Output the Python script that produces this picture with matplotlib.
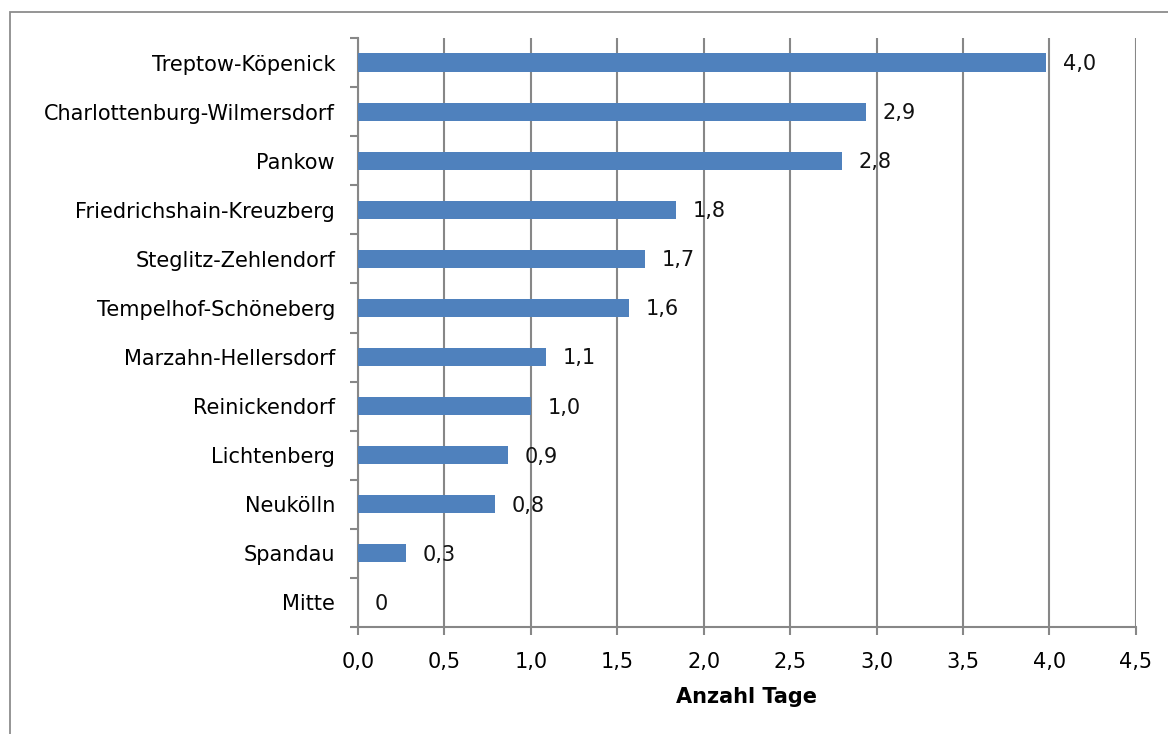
import matplotlib.pyplot as plt
from matplotlib.patches import Rectangle

plt.rcParams['font.family'] = ['DejaVu Sans']

# Bezirke von unten nach oben
bezirke = ['Mitte', 'Spandau', 'Neukölln', 'Lichtenberg', 'Reinickendorf',
           'Marzahn-Hellersdorf', 'Tempelhof-Schöneberg', 'Steglitz-Zehlendorf',
           'Friedrichshain-Kreuzberg', 'Pankow', 'Charlottenburg-Wilmersdorf',
           'Treptow-Köpenick']
tage = [0.0, 0.28, 0.79, 0.87, 1.0, 1.09, 1.57, 1.66, 1.84, 2.80, 2.94, 3.98]
x_ticks = [0.0, 0.5, 1.0, 1.5, 2.0, 2.5, 3.0, 3.5, 4.0, 4.5]

grau = '#878787'
blau = '#4F81BD'
fs = 15


def de_fmt(v):
    if v == 0:
        return '0'
    return f'{v:.1f}'.replace('.', ',')


fig = plt.figure(figsize=(11.68, 7.34), dpi=100)
ax = fig.add_axes([0.3065, 0.1458, 0.666, 0.8024])

# Rahmen um das Diagramm
fig.patches.append(Rectangle((10 / 1168, -0.05), 1.2, 1 - 12 / 734 + 0.05,
                             transform=fig.transFigure, fill=False,
                             edgecolor='#8c8c8c', linewidth=1.3))

pos = range(len(bezirke))
ax.barh(pos, tage, height=0.37, color=blau, zorder=3)

for y, v in zip(pos, tage):
    ax.annotate(de_fmt(v), (v, y), xytext=(12, -1), textcoords='offset points',
                ha='left', va='center', fontsize=fs, color='#111111', zorder=4)

ax.set_xlim(0, 4.5)
ax.set_ylim(-0.5, len(bezirke) - 0.5)
ax.set_xticks(x_ticks)
ax.set_xticklabels([f'{t:.1f}'.replace('.', ',') for t in x_ticks], fontsize=fs)
ax.set_yticks(pos)
ax.set_yticklabels(bezirke, fontsize=fs)
ax.set_yticks([p - 0.5 for p in range(len(bezirke) + 1)], minor=True)
ax.tick_params(axis='y', which='major', length=0, pad=16.5)
ax.tick_params(axis='y', which='minor', length=6, color=grau, width=1.5)
ax.tick_params(axis='x', length=6, color=grau, width=1.5, pad=12)

ax.grid(axis='x', color=grau, linewidth=1.5, zorder=0)
for side in ['top', 'right']:
    ax.spines[side].set_visible(False)
for side in ['left', 'bottom']:
    ax.spines[side].set_color(grau)
    ax.spines[side].set_linewidth(1.5)

ax.set_xlabel('Anzahl Tage', fontsize=fs, fontweight='bold', labelpad=11)

fig.savefig('out.png', dpi=100)
